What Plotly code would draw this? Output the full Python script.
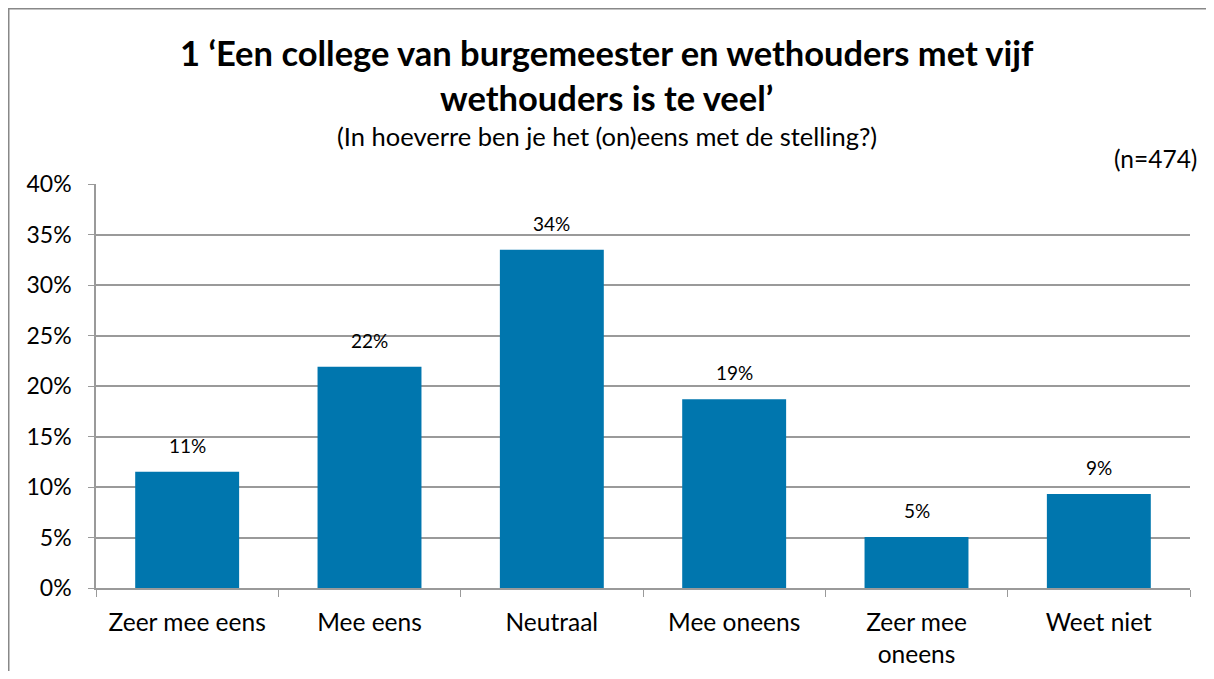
import plotly.graph_objects as go

categories = ["Zeer mee eens", "Mee eens", "Neutraal", "Mee oneens", "Zeer mee<br>oneens", "Weet niet"]
values = [11.5, 21.9, 33.5, 18.7, 5.05, 9.3]
labels = ["11%", "22%", "34%", "19%", "5%", "9%"]
y_ticks = [0, 5, 10, 15, 20, 25, 30, 35, 40]
y_ticktext = [f"{v}%" for v in y_ticks]

# page body has an 8px margin, so the figure is drawn 8px in from the top-left
OFF = 8
W, H = 1214 - 2 * OFF, 679 - 2 * OFF
ml, mt = 96 - OFF, 184 - OFF
mr = W - (1190 - OFF)
mb = H - (588 - OFF)
FONT = "Lato, Carlito, Calibri, sans-serif"
BAR = "#0076AE"
GRID = "#9A9A9A"

fig = go.Figure()
fig.add_trace(go.Bar(
    x=categories, y=values,
    marker=dict(color=BAR, line=dict(width=0)),
    hoverinfo="skip",
))

for c, v, t in zip(categories, values, labels):
    fig.add_annotation(x=c, y=v, text=t, showarrow=False, yanchor="bottom",
                       yshift=13, font=dict(size=19, color="#000", family=FONT))

pw = W - ml - mr
ph = H - mt - mb
def px(x):
    x -= OFF
    return (x - ml) / pw
def py(y):
    y -= OFF
    return (H - mb - y) / ph

frame = dict(color="#888888", width=1.5)
fig.add_shape(type="line", xref="paper", yref="paper",
              x0=px(8.75), x1=px(8.75), y0=py(8), y1=py(700), line=frame, layer="below")
fig.add_shape(type="line", xref="paper", yref="paper",
              x0=px(8), x1=px(1230), y0=py(8.75), y1=py(8.75), line=frame, layer="below")

fig.add_annotation(xref="paper", yref="paper", x=px(607), y=py(75), yanchor="middle",
                   text="<b>1 ‘Een college van burgemeester en wethouders met vijf<br>wethouders is te veel’</b>",
                   showarrow=False, font=dict(size=34.5, color="#000", family=FONT), align="center")
fig.add_annotation(xref="paper", yref="paper", x=px(607), y=py(136), yanchor="middle",
                   text="(In hoeverre ben je het (on)eens met de stelling?)",
                   showarrow=False, font=dict(size=25.5, color="#000", family=FONT))
fig.add_annotation(xref="paper", yref="paper", x=px(1199), y=py(159), xanchor="right", yanchor="middle",
                   text="(n=474)", showarrow=False, font=dict(size=24.5, color="#000", family=FONT))

fig.update_layout(
    width=W, height=H,
    margin=dict(l=ml, r=mr, t=mt, b=mb, pad=0, autoexpand=False),
    paper_bgcolor="white", plot_bgcolor="white",
    bargap=0.43,
    showlegend=False,
    font=dict(family=FONT, size=24, color="#000"),
    xaxis=dict(
        automargin=False,
        showline=True, linecolor=GRID, linewidth=1.5,
        ticks="outside", ticklen=7, tickcolor=GRID, tickson="boundaries",
        tickfont=dict(size=24.5, family=FONT, color="#000"),
        ticklabelstandoff=12,
        showgrid=False, zeroline=False, fixedrange=True,
    ),
    yaxis=dict(
        automargin=False,
        range=[0, 40], tickvals=y_ticks, ticktext=y_ticktext,
        showline=True, linecolor=GRID, linewidth=1.5,
        ticks="outside", ticklen=6, tickcolor=GRID,
        showgrid=True, gridcolor=GRID, gridwidth=1.5,
        zeroline=False, tickfont=dict(size=23, family=FONT, color="#000"),
        ticklabelstandoff=12,
    ),
)

fig.write_html("out.html")
